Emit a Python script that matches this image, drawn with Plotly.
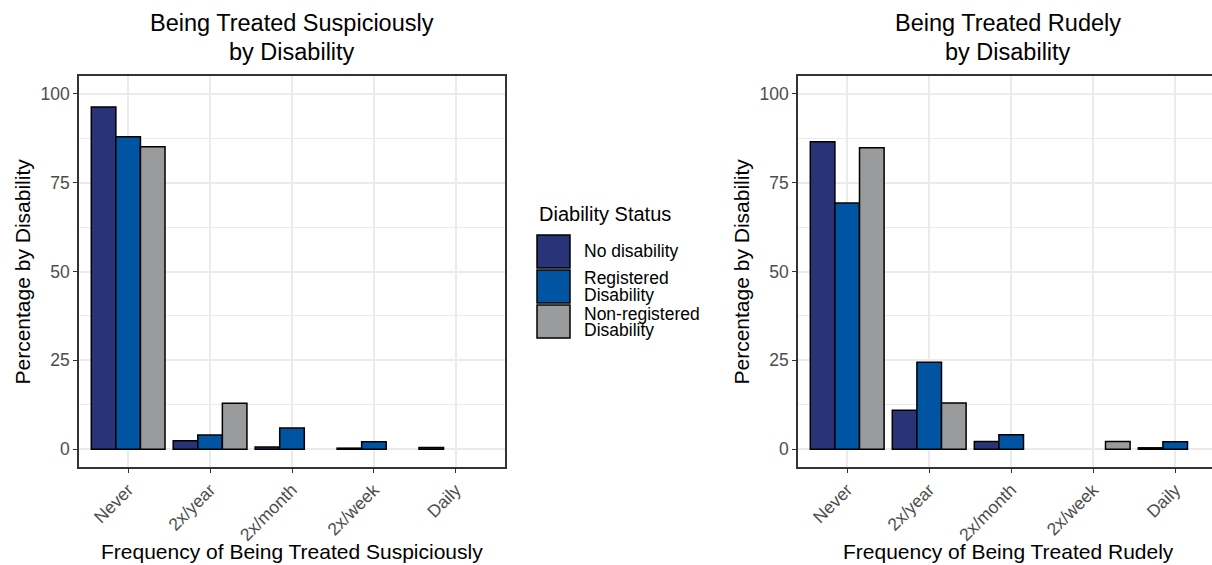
import plotly.graph_objects as go

# Frequency categories shared by both panels
categories = ["Never", "2x/year", "2x/month", "2x/week", "Daily"]

# Disability groups, legend labels and fill colours
groups = ["No disability", "Registered Disability", "Non-registered Disability"]
legend_lines = [["No disability"], ["Registered", "Disability"], ["Non-registered", "Disability"]]
fill_colors = ["#283378", "#0054A2", "#9A9B9D"]

# Percentages: being treated suspiciously
suspicious_none = [96.3, 2.4, 0.6, 0.3, 0.5]
suspicious_registered = [87.9, 4.0, 6.0, 2.1, None]
suspicious_nonregistered = [85.1, 12.9, None, None, None]

# Percentages: being treated rudely
rude_none = [86.5, 11.0, 2.2, None, 0.4]
rude_registered = [69.3, 24.5, 4.1, None, 2.1]
rude_nonregistered = [84.8, 13.0, None, 2.2, None]

y_ticks = [0, 25, 50, 75, 100]

FONT = "Liberation Sans, Arial, sans-serif"
W, H = 1212, 565


def px_x(p):
    return p / W


def px_y(p):
    return 1 - p / H


fig = go.Figure()

panels = [
    ("x", "y", [suspicious_none, suspicious_registered, suspicious_nonregistered]),
    ("x2", "y2", [rude_none, rude_registered, rude_nonregistered]),
]
for xa, ya, series in panels:
    for name, vals, col in zip(groups, series, fill_colors):
        fig.add_trace(go.Bar(
            x=categories, y=vals, name=name, xaxis=xa, yaxis=ya,
            marker=dict(color=col, line=dict(color="black", width=1.5)),
            showlegend=False,
        ))

grid = "#EBEBEB"
frame = "#333333"
tickfont = dict(family=FONT, size=17.5, color="#4D4D4D")

common_x = dict(
    type="category", categoryorder="array", categoryarray=categories,
    showgrid=True, gridcolor=grid, gridwidth=1.5,
    showline=True, linecolor=frame, linewidth=1.5,
    ticks="outside", ticklen=4, tickwidth=1.2, tickcolor=frame,
    tickangle=-45, tickfont=tickfont, zeroline=False,
)
common_y = dict(
    range=[-5, 105], tickvals=y_ticks,
    showgrid=True, gridcolor=grid, gridwidth=1.5,
    minor=dict(dtick=12.5, tick0=0, showgrid=True, gridcolor=grid, gridwidth=0.8, ticks=""),
    showline=True, linecolor=frame, linewidth=1.5,
    ticks="outside", ticklen=4, tickwidth=1.2, tickcolor=frame,
    tickfont=tickfont, zeroline=False,
)

y_dom = [px_y(467), px_y(76)]
fig.update_layout(
    width=W, height=H,
    margin=dict(l=0, r=0, t=0, b=0),
    paper_bgcolor="white", plot_bgcolor="white",
    barmode="group", bargap=0.1, bargroupgap=0,
    font=dict(family=FONT),
    xaxis=dict(common_x, domain=[px_x(79), px_x(505)], range=[-0.6, 4.6],
               mirror=True, anchor="y"),
    yaxis=dict(common_y, domain=y_dom, mirror=True, anchor="x"),
    xaxis2=dict(common_x, domain=[px_x(798), 1.0], range=[-0.6, -0.6 + (W - 798) / 82.0],
                mirror=True, anchor="y2"),
    yaxis2=dict(common_y, domain=y_dom, mirror=False, anchor="x2"),
)

ann = []


def text(x, y, s, size, **kw):
    ann.append(dict(x=x, y=y, xref="paper", yref="paper", text=s, showarrow=False,
                    font=dict(family=FONT, size=size, color=kw.pop("color", "black")), **kw))


# Panel titles
text(px_x(292), px_y(23), "Being Treated Suspiciously", 23.5, xanchor="center", yanchor="middle")
text(px_x(292), px_y(52), "by Disability", 23.5, xanchor="center", yanchor="middle")
text(px_x(1008), px_y(23), "Being Treated Rudely", 23.5, xanchor="center", yanchor="middle")
text(px_x(1008), px_y(52), "by Disability", 23.5, xanchor="center", yanchor="middle")

# Axis titles
text(px_x(292), px_y(551), "Frequency of Being Treated Suspiciously", 21, xanchor="center", yanchor="middle")
text(px_x(1008), px_y(551), "Frequency of Being Treated Rudely", 21, xanchor="center", yanchor="middle")
text(px_x(22), px_y(271.5), "Percentage by Disability", 21, xanchor="center", yanchor="middle", textangle=-90)
text(px_x(741), px_y(271.5), "Percentage by Disability", 21, xanchor="center", yanchor="middle", textangle=-90)

# Legend drawn by hand so the keys can be large squares
text(px_x(537), px_y(214), "Diability Status", 20, xanchor="left", yanchor="middle")
key_rows = [(235, 268), (270, 303), (305, 338)]
shapes = []
for (top, bot), col, lines in zip(key_rows, fill_colors, legend_lines):
    shapes.append(dict(type="rect", xref="paper", yref="paper",
                       x0=px_x(537), x1=px_x(570), y0=px_y(bot), y1=px_y(top),
                       fillcolor=col, line=dict(color="black", width=1.5)))
    mid = (top + bot) / 2
    if len(lines) == 1:
        text(px_x(582), px_y(mid), lines[0], 17.5, xanchor="left", yanchor="middle")
    else:
        text(px_x(582), px_y(mid - 8), lines[0], 17.5, xanchor="left", yanchor="middle")
        text(px_x(582), px_y(mid + 8), lines[1], 17.5, xanchor="left", yanchor="middle")

fig.update_layout(annotations=ann, shapes=shapes)

fig.write_html("out.html")
